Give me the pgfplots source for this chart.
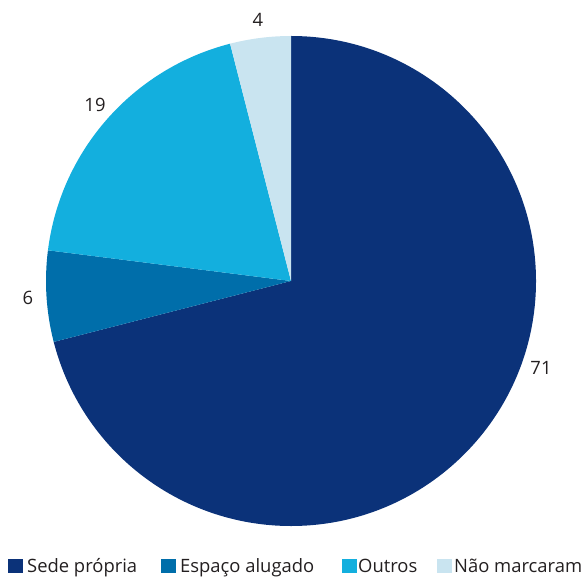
\documentclass[border=0pt]{standalone}
\usepackage{pgfplots}
\pgfplotsset{compat=1.18}
\usepackage{fontspec}
\setmainfont{Open Sans}
\definecolor{sede}{RGB}{11,50,121}
\definecolor{aluga}{RGB}{0,110,170}
\definecolor{outros}{RGB}{19,175,222}
\definecolor{nao}{RGB}{201,228,240}
\definecolor{txt}{RGB}{35,31,32}
\tikzset{lbl/.style={font=\fontsize{18.4}{21}\selectfont, text=txt}}
\begin{document}
\begin{tikzpicture}
\begin{axis}[
    width=585pt, height=574pt, scale only axis,
    xmin=0, xmax=585, ymin=0, ymax=574,
    hide axis, clip=false
]
\path (axis cs:0,0) rectangle (axis cs:585,574);
% pie: values clockwise from top
\def\a{90}
\pgfplotsforeachungrouped \v/\c in {71/sede, 6/aluga, 19/outros, 4/nao} {
    \pgfmathsetmacro{\b}{\a-3.6*\v}
    \pgfmathsetmacro{\xs}{291+245*cos(\a)}
    \pgfmathsetmacro{\ys}{293+245*sin(\a)}
    \edef\temp{\noexpand\fill[\c] (axis cs:291,293) -- (axis cs:\xs,\ys)
        arc[start angle=\a, end angle=\b, radius=245pt] -- cycle;}
    \temp
    \global\let\a\b
}
% value labels
\node[lbl] at (axis cs:258,554) {4};
\node[lbl] at (axis cs:95,469) {19};
\node[lbl] at (axis cs:28,276) {6};
\node[lbl] at (axis cs:541,206) {71};
% legend
\fill[sede]   (axis cs:8,1)   rectangle (axis cs:23,15);
\fill[aluga]  (axis cs:161,1) rectangle (axis cs:176,15);
\fill[outros] (axis cs:342,1) rectangle (axis cs:357,15);
\fill[nao]    (axis cs:437,1) rectangle (axis cs:452,15);
\node[lbl, anchor=base west, inner sep=0pt] at (axis cs:27,2) {Sede própria};
\node[lbl, anchor=base west, inner sep=0pt] at (axis cs:180,2) {Espaço alugado};
\node[lbl, anchor=base west, inner sep=0pt] at (axis cs:358,2) {Outros};
\node[lbl, anchor=base west, inner sep=0pt] at (axis cs:454,2) {Não marcaram};
\end{axis}
\end{tikzpicture}
\end{document}
